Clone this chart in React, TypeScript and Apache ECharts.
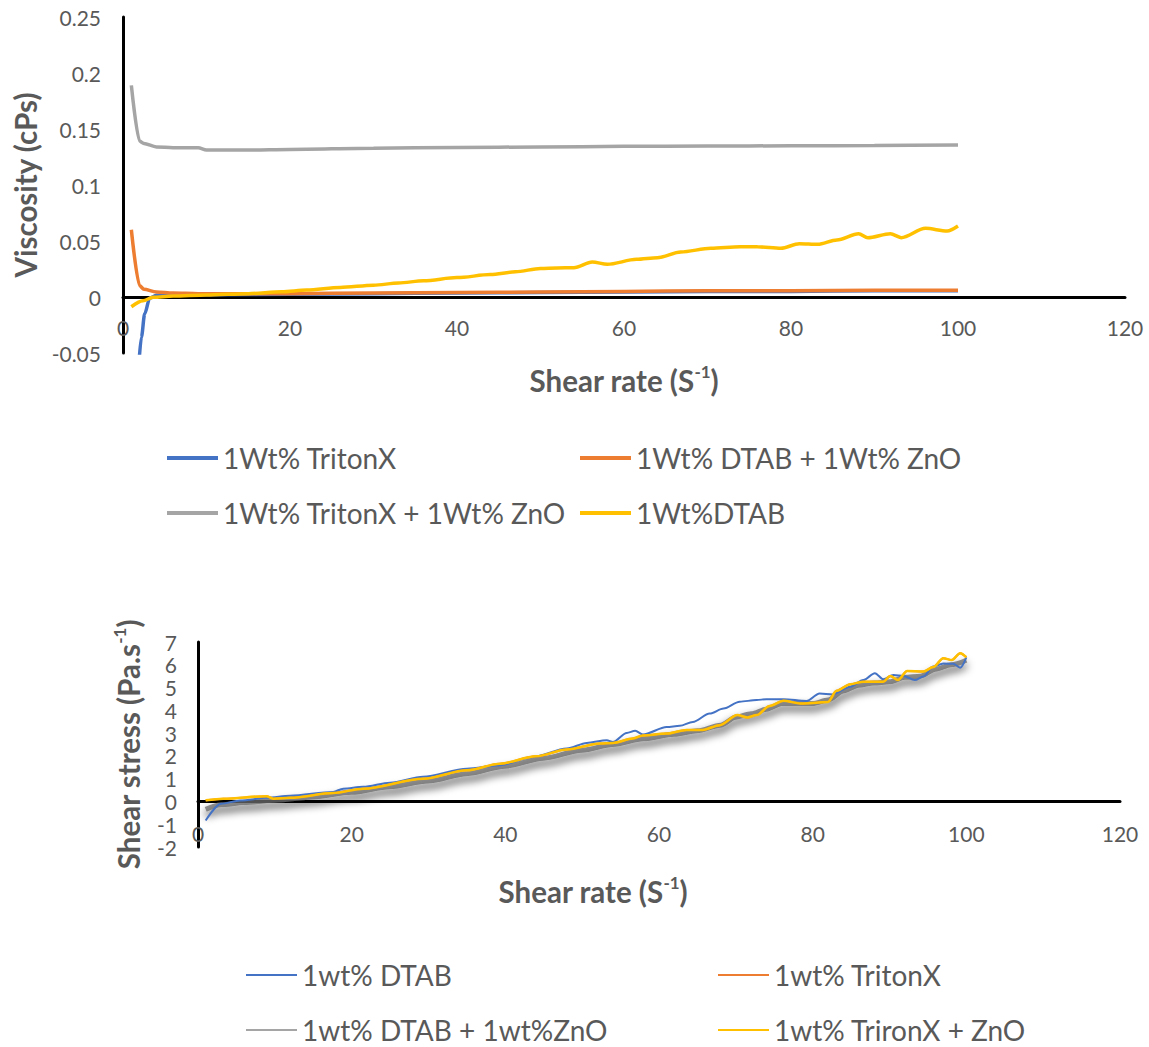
import React, { useEffect, useRef } from "react";
import * as echarts from "echarts";

// ---------- Top chart: Viscosity vs shear rate ----------
const topNames = ["1Wt% TritonX", "1Wt% DTAB + 1Wt% ZnO", "1Wt% TritonX + 1Wt% ZnO", "1Wt%DTAB"];
const topXTicks = [0, 20, 40, 60, 80, 100, 120];

const topBlueX = [1.9, 2.2, 2.6, 3.2, 4, 6, 10, 20, 30, 40, 50, 60, 70, 80, 90, 100];
const topBlueY = [-0.06, -0.036, -0.015, -0.001, 0.0015, 0.002, 0.002, 0.0025, 0.003, 0.0035, 0.004, 0.0045, 0.005, 0.005, 0.0055, 0.0055];

const topOrangeX = [1, 2, 2.5, 4, 6, 9, 12, 20, 30, 40, 50, 60, 70, 80, 90, 100];
const topOrangeY = [0.06, 0.01, 0.007, 0.0045, 0.0035, 0.003, 0.0028, 0.003, 0.0035, 0.004, 0.0045, 0.005, 0.0055, 0.0055, 0.006, 0.006];

const topGrayX = [1, 2, 2.5, 4, 6, 9, 10, 15, 20, 30, 40, 50, 60, 70, 80, 90, 100];
const topGrayY = [0.189, 0.139, 0.137, 0.134, 0.1333, 0.1333, 0.1313, 0.1313, 0.1318, 0.1328, 0.1335, 0.134, 0.1345, 0.1348, 0.135, 0.1353, 0.1358];

const topYellowX = [1, 2.4, 3.6, 6, 10, 15, 19, 22, 26, 30, 33, 36, 40, 44, 47, 50, 52, 54, 56.2, 58, 61.5, 64, 66.8, 70.4, 73.9, 76, 78.8, 81, 83.2, 85.5, 88.1, 89.2, 91.9, 93.2, 96.1, 98.7, 100];
const topYellowY = [-0.0087, -0.0033, -0.0003, 0.0008, 0.0018, 0.003, 0.0047, 0.0062, 0.0085, 0.0105, 0.0125, 0.0145, 0.0173, 0.02, 0.0225, 0.0255, 0.026, 0.0262, 0.0313, 0.0292, 0.0336, 0.0351, 0.0402, 0.0435, 0.0449, 0.0448, 0.0435, 0.0476, 0.047, 0.051, 0.0565, 0.053, 0.0565, 0.053, 0.0613, 0.0589, 0.0634];

// ---------- Bottom chart: Shear stress vs shear rate ----------
const botNames = ["1wt% DTAB", "1wt% TritonX", "1wt% DTAB + 1wt%ZnO", "1wt% TrironX + ZnO"];

const botBlueX = [1, 3, 5.5, 9, 12, 17.6, 18.9, 21.5, 25, 29.3, 35, 39.3, 43.6, 48, 50.6, 53.2, 54, 55.8, 56.9, 57.9, 61, 62.7, 64.4, 66.6, 68.4, 70.5, 72.7, 74, 76.2, 79.2, 80.9, 82.6, 84.9, 86.6, 88.1, 89.2, 90.5, 91.8, 93.3, 94.4, 95.7, 97, 98.3, 99.2, 100];
const botBlueY = [-0.84, -0.1, 0.04, 0.16, 0.25, 0.42, 0.56, 0.64, 0.82, 1.08, 1.44, 1.59, 1.95, 2.32, 2.57, 2.69, 2.61, 3.01, 3.1, 2.94, 3.27, 3.32, 3.49, 3.86, 4.08, 4.38, 4.45, 4.49, 4.49, 4.41, 4.74, 4.7, 5.04, 5.33, 5.63, 5.36, 5.55, 5.51, 5.33, 5.48, 5.92, 6.06, 6.04, 5.87, 6.33];

const botOrangeX = [1, 3.3, 8.9, 9.8, 12, 17.6, 21.5, 29.3, 35, 39.3, 44, 48, 52.3, 54, 56.6, 57.9, 61, 63.6, 65.7, 67.9, 70.2, 71.5, 72.7, 74.4, 76.2, 78.4, 80.5, 82, 83.1, 84.9, 86.6, 89.2, 90.1, 91.1, 92.3, 94.4, 95.7, 97, 98.1, 99.2, 100];
const botOrangeY = [0.05, 0.12, 0.23, 0.12, 0.16, 0.37, 0.56, 1.0, 1.37, 1.66, 1.98, 2.28, 2.54, 2.57, 2.76, 2.9, 2.98, 3.14, 3.14, 3.35, 3.79, 3.69, 3.79, 4.19, 4.42, 4.3, 4.33, 4.37, 4.86, 5.15, 5.26, 5.26, 5.51, 5.33, 5.73, 5.7, 5.9, 6.29, 6.21, 6.51, 6.33];

const botGrayX = [1, 3, 6, 10, 15, 20, 25, 30, 35, 40, 45, 50, 54, 58, 62, 65, 68, 70, 72, 74, 76, 78, 80, 82, 84, 86, 88, 90, 92, 94, 96, 98, 100];
const botGrayY = [-0.35, -0.15, -0.05, 0.05, 0.2, 0.4, 0.65, 0.9, 1.22, 1.55, 1.9, 2.25, 2.5, 2.75, 2.95, 3.1, 3.35, 3.7, 3.85, 4.05, 4.3, 4.3, 4.3, 4.45, 4.85, 5.1, 5.2, 5.25, 5.45, 5.5, 5.8, 6.0, 6.2];

const botYellowX = [1, 3.3, 8.9, 9.8, 12, 17.6, 21.5, 29.3, 35, 39.3, 44, 48, 52.3, 54, 56.6, 57.9, 61, 63.6, 65.7, 67.9, 70.2, 71.5, 72.7, 74.4, 76.2, 78.4, 80.5, 82, 83.1, 84.9, 86.6, 89.2, 90.1, 91.1, 92.3, 94.4, 95.7, 97, 98.1, 99.2, 100];
const botYellowY = [0.05, 0.12, 0.23, 0.12, 0.16, 0.37, 0.56, 1.0, 1.37, 1.66, 1.98, 2.28, 2.54, 2.57, 2.76, 2.9, 2.98, 3.14, 3.14, 3.35, 3.79, 3.69, 3.79, 4.19, 4.42, 4.3, 4.33, 4.37, 4.86, 5.15, 5.26, 5.26, 5.51, 5.33, 5.73, 5.7, 5.9, 6.29, 6.21, 6.51, 6.33];

const COLORS = ["#4472C4", "#ED7D31", "#A5A5A5", "#FFC000"];
const FONT = "Lato, 'Open Sans', sans-serif";
const TXT = "#595959";

// grid geometry
const G1 = { left: 123, right: 24, top: 17, height: 336 };
const G2 = { left: 198, right: 29, top: 642, height: 205 };
const Y1 = { min: -0.05, max: 0.25 };
const Y2 = { min: -2, max: 7 };
// x-axis sits at y = 0: offset (upward) from the grid bottom
const zeroOffset = (g: { height: number }, y: { min: number; max: number }) =>
  -g.height * ((0 - y.min) / (y.max - y.min));

const pairs = (xs: number[], ys: number[]) => xs.map((x, i) => [x, ys[i]]);

function legendItem(name: string, left: number, top: number, thick: number) {
  return {
    data: [name],
    left,
    top,
    padding: 0,
    itemGap: 0,
    icon: "rect",
    itemWidth: 51,
    itemHeight: thick,
    selectedMode: false,
    textStyle: { fontSize: 28, color: TXT, fontFamily: FONT, lineHeight: 32 },
  };
}

function richName(sizeMain: number, padding?: number[]) {
  return {
    padding,
    rich: {
      b: { fontSize: sizeMain, fontWeight: "bold", color: TXT, fontFamily: FONT, lineHeight: 34 },
      s: { fontSize: 17, fontWeight: "bold", color: TXT, fontFamily: FONT, verticalAlign: "top", lineHeight: 17 },
    },
  };
}

export default function App() {
  const ref = useRef<HTMLDivElement>(null);
  useEffect(() => {
    if (!ref.current) return;
    const chart = echarts.init(ref.current, null, { renderer: "svg" });
    const axisLine = { onZero: false, lineStyle: { color: "#000", width: 3 } };
    const label = { color: TXT, fontSize: 21, fontFamily: FONT };
    const option: any = {
      animation: false,
      backgroundColor: "#fff",
      grid: [G1, G2],
      xAxis: [
        {
          type: "value", gridIndex: 0, min: topXTicks[0], max: topXTicks[topXTicks.length - 1], interval: 20,
          offset: zeroOffset(G1, Y1),
          axisLine, axisTick: { show: false }, splitLine: { show: false },
          axisLabel: { ...label, margin: 20 },
          name: "{b|Shear rate (S}{s|-1}{b|)}", nameLocation: "middle", nameGap: 66,
          nameTextStyle: richName(29.5),
        },
        {
          type: "value", gridIndex: 1, min: 0, max: 120, interval: 20,
          offset: zeroOffset(G2, Y2),
          axisLine, axisTick: { show: false }, splitLine: { show: false },
          axisLabel: { ...label, margin: 22 },
          name: "{b|Shear rate (S}{s|-1}{b|)}", nameLocation: "middle", nameGap: 73,
          nameTextStyle: richName(29.5, [0, 132, 0, 0]),
        },
      ],
      yAxis: [
        {
          type: "value", gridIndex: 0, min: Y1.min, max: Y1.max, interval: 0.05,
          axisLine, axisTick: { show: false }, splitLine: { show: false },
          axisLabel: { ...label, margin: 22 },
          name: "Viscosity (cPs)", nameLocation: "middle", nameGap: 82,
          nameTextStyle: { fontSize: 29.5, fontWeight: "bold", color: TXT, fontFamily: FONT },
        },
        {
          type: "value", gridIndex: 1, min: Y2.min, max: Y2.max, interval: 1,
          axisLine, axisTick: { show: false }, splitLine: { show: false },
          axisLabel: { ...label, margin: 21 },
          name: "{b|Shear stress (Pa.s}{s|-1}{b|)}", nameLocation: "middle", nameGap: 53,
          nameTextStyle: richName(29.5),
        },
      ],
      legend: [
        legendItem(topNames[0], 167, 442, 4),
        legendItem(topNames[1], 580, 442, 4),
        legendItem(topNames[2], 167, 497, 4),
        legendItem(topNames[3], 580, 497, 4),
        legendItem(botNames[0], 246, 959, 2),
        legendItem(botNames[1], 718, 959, 2),
        legendItem(botNames[2], 246, 1014, 2),
        legendItem(botNames[3], 718, 1014, 2),
      ],
      series: [
        { name: topNames[0], type: "line", xAxisIndex: 0, yAxisIndex: 0, data: pairs(topBlueX, topBlueY), color: COLORS[0], showSymbol: false, smooth: 0.3, smoothMonotone: "x", lineStyle: { width: 3.5 } },
        { name: topNames[1], type: "line", xAxisIndex: 0, yAxisIndex: 0, data: pairs(topOrangeX, topOrangeY), color: COLORS[1], showSymbol: false, smooth: 0.3, smoothMonotone: "x", lineStyle: { width: 3.5 } },
        { name: topNames[2], type: "line", xAxisIndex: 0, yAxisIndex: 0, data: pairs(topGrayX, topGrayY), color: COLORS[2], showSymbol: false, smooth: 0.3, smoothMonotone: "x", lineStyle: { width: 3.5 } },
        { name: topNames[3], type: "line", xAxisIndex: 0, yAxisIndex: 0, data: pairs(topYellowX, topYellowY), color: COLORS[3], showSymbol: false, smooth: 0.3, smoothMonotone: "x", lineStyle: { width: 3.5 } },

        { name: botNames[2], type: "line", xAxisIndex: 1, yAxisIndex: 1, data: pairs(botGrayX, botGrayY), color: COLORS[2], showSymbol: false, smooth: 0.3, smoothMonotone: "x",
          lineStyle: { width: 5, color: "rgba(105,105,105,0.75)", shadowColor: "#000", shadowBlur: 8, shadowOffsetY: 5 } },
        { name: botNames[0], type: "line", xAxisIndex: 1, yAxisIndex: 1, data: pairs(botBlueX, botBlueY), color: COLORS[0], showSymbol: false, smooth: 0.3, smoothMonotone: "x", lineStyle: { width: 2 } },
        { name: botNames[1], type: "line", xAxisIndex: 1, yAxisIndex: 1, data: pairs(botOrangeX, botOrangeY), color: COLORS[1], showSymbol: false, smooth: 0.3, smoothMonotone: "x", lineStyle: { width: 2 } },
        { name: botNames[3], type: "line", xAxisIndex: 1, yAxisIndex: 1, data: pairs(botYellowX, botYellowY), color: COLORS[3], showSymbol: false, smooth: 0.3, smoothMonotone: "x", lineStyle: { width: 2.5 } },
      ],
    };
    chart.setOption(option);
    return () => chart.dispose();
  }, []);
  return <div ref={ref} style={{ position: "fixed", left: 0, top: 0, width: 1149, height: 1047 }} />;
}
